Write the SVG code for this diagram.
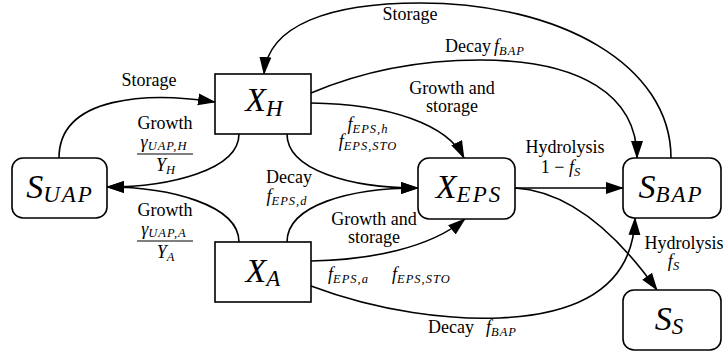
<svg xmlns="http://www.w3.org/2000/svg" width="723" height="356" viewBox="0 0 723 356" font-family="'Liberation Serif', 'Times New Roman', serif">
  <defs>
    <marker id="arrow" markerUnits="userSpaceOnUse" viewBox="0 0 18 13" markerWidth="18" markerHeight="13" refX="17" refY="6.5" orient="auto">
      <path d="M0,0.5 L18,6.5 L0,12.5 Z" fill="#000"/>
    </marker>
  </defs>
  <style>
    .box { fill: #fff; stroke: #000; stroke-width: 1.6; }
    .edge { fill: none; stroke: #000; stroke-width: 1.6; marker-end: url(#arrow); }
    .bar { stroke: #000; stroke-width: 1.1; }
    text { font-family: 'Liberation Serif', 'Times New Roman', serif; fill: #000; }
    .big { font-size: 34px; font-style: italic; text-anchor: middle; }
    .bsub { font-size: 23px; letter-spacing: 2px; }
    .lbl { font-size: 18px; text-anchor: middle; }
    .st { font-size: 18px; }
    .m { font-style: italic; }
    .sub { font-size: 12.5px; letter-spacing: 1px; font-style: italic; }
  </style>

  <!-- connectors -->
  <g id="connectors">
    <!-- S_BAP -> X_H (storage, over the top) -->
    <path class="edge" d="M671,158 C671,65 560,3 420,3 C330,3 268,25 264,74"/>
    <!-- X_H -> S_BAP (decay) -->
    <path class="edge" d="M311,93 C370,68 430,60 480,60 C580,60 637,95 637,158"/>
    <!-- X_H -> X_EPS top (growth and storage) -->
    <path class="edge" d="M311,103 C390,104 448,125 464,158"/>
    <!-- X_H -> X_EPS left (decay) -->
    <path class="edge" d="M287,134 C287,170 350,188 418,188"/>
    <!-- X_A -> X_EPS left -->
    <path class="edge" d="M287,242 C287,205 350,188 418,188"/>
    <!-- X_H -> S_UAP (growth) -->
    <path class="edge" d="M239,134 C239,170 170,187 107,187"/>
    <!-- X_A -> S_UAP (growth) -->
    <path class="edge" d="M239,242 C239,205 170,187 107,187"/>
    <!-- S_UAP -> X_H (storage) -->
    <path class="edge" d="M59,158 C59,95 150,92 215,102"/>
    <!-- X_A -> X_EPS bottom (growth and storage) -->
    <path class="edge" d="M311,261 C370,260 430,248 465,219"/>
    <!-- X_A -> S_BAP bottom (decay) -->
    <path class="edge" d="M311,286 C380,312 450,320 500,318 C590,314 633,280 635,218"/>
    <!-- X_EPS -> S_BAP (hydrolysis) -->
    <path class="edge" d="M515,188 L623,188"/>
    <!-- X_EPS -> S_S (hydrolysis) -->
    <path class="edge" d="M515,188 C550,190 600,210 657,290"/>
  </g>

  <!-- nodes -->
  <g id="X_H">
    <rect class="box" x="215" y="74" width="96" height="60"/>
    <text class="big" x="265" y="111">X<tspan class="bsub" dy="5">H</tspan></text>
  </g>
  <g id="X_A">
    <rect class="box" x="215" y="242" width="96" height="60"/>
    <text class="big" x="264" y="282">X<tspan class="bsub" dy="4">A</tspan></text>
  </g>
  <g id="S_UAP">
    <rect class="box" x="12" y="158" width="95" height="60" rx="11"/>
    <text class="big" x="60" y="198">S<tspan class="bsub" dy="4">UAP</tspan></text>
  </g>
  <g id="X_EPS">
    <rect class="box" x="418" y="158" width="97" height="61" rx="11"/>
    <text class="big" x="469" y="198">X<tspan class="bsub" dy="4">EPS</tspan></text>
  </g>
  <g id="S_BAP">
    <rect class="box" x="623" y="158" width="98" height="60" rx="11"/>
    <text class="big" x="671" y="198">S<tspan class="bsub" dy="4">BAP</tspan></text>
  </g>
  <g id="S_S">
    <rect class="box" x="623" y="290" width="98" height="60" rx="11"/>
    <text class="big" x="670" y="330">S<tspan class="bsub" dy="4">S</tspan></text>
  </g>

  <!-- edge labels -->
  <g id="labels">
    <text class="lbl" x="149" y="86">Storage</text>

    <text class="lbl" x="165" y="129">Growth</text>
    <text class="lbl m" x="164" y="148" font-size="19">γ<tspan class="sub" dy="2">UAP,H</tspan></text>
    <line class="bar" x1="137" y1="154" x2="193" y2="154"/>
    <text class="lbl m" x="166" y="171" font-size="19">Y<tspan class="sub" dy="3">H</tspan></text>

    <text class="lbl" x="165" y="216">Growth</text>
    <text class="lbl m" x="164" y="235" font-size="19">γ<tspan class="sub" dy="2">UAP,A</tspan></text>
    <line class="bar" x1="137" y1="241" x2="193" y2="241"/>
    <text class="lbl m" x="166" y="258" font-size="19">Y<tspan class="sub" dy="3">A</tspan></text>

    <text class="lbl" x="289" y="183">Decay</text>
    <text class="lbl m" x="287" y="202">f<tspan class="sub" dy="3">EPS,d</tspan></text>

    <text class="lbl" x="452" y="94">Growth and</text>
    <text class="lbl" x="452" y="112">storage</text>
    <text class="lbl m" x="368" y="130">f<tspan class="sub" dy="3">EPS,h</tspan></text>
    <text class="lbl m" x="368" y="147">f<tspan class="sub" dy="3">EPS,STO</tspan></text>

    <text class="lbl" x="410" y="20">Storage</text>
    <text class="st" x="445" y="52">Decay</text>
    <text class="st m" x="494" y="52">f<tspan class="sub" dy="3">BAP</tspan></text>

    <text class="lbl" x="565" y="153">Hydrolysis</text>
    <text class="lbl" x="561" y="173">1 − <tspan class="m">f</tspan><tspan class="sub" dy="3">S</tspan></text>

    <text class="lbl" x="684" y="249">Hydrolysis</text>
    <text class="lbl m" x="674" y="267">f<tspan class="sub" dy="3">S</tspan></text>

    <text class="lbl" x="374" y="225">Growth and</text>
    <text class="lbl" x="374" y="243">storage</text>
    <text class="st m" x="328" y="280">f<tspan class="sub" dy="3">EPS,a</tspan></text>
    <text class="st m" x="392" y="280">f<tspan class="sub" dy="3">EPS,STO</tspan></text>

    <text class="st" x="428" y="333">Decay</text>
    <text class="st m" x="486" y="333">f<tspan class="sub" dy="3">BAP</tspan></text>
  </g>
</svg>
